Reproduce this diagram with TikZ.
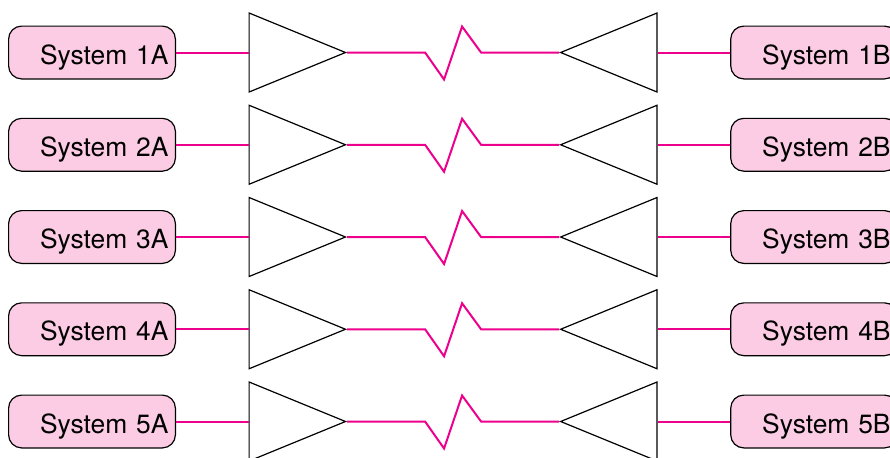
\documentclass[tikz,border=0pt]{standalone}
\usepackage{xcolor}
\usepackage{fontspec}
\setmainfont{TeX Gyre Heros}
\usetikzlibrary{shapes.geometric, positioning}
\definecolor{linkpink}{RGB}{236,0,140}
\definecolor{syspink}{RGB}{252,204,228}

\begin{document}
\begin{tikzpicture}[
    sysbox/.style={draw, rounded corners=6.5pt, fill=syspink, line width=0.6pt, minimum height=26.4pt, inner sep=3.5pt, text width=76.4pt, align=right, text height=11.6pt, text depth=0pt, font=\fontsize{13.2pt}{15pt}\selectfont},
    amp/.style={draw, isosceles triangle, isosceles triangle stretches, minimum width=39.5pt, minimum height=48.2pt, inner sep=0pt, line width=0.6pt},
    ampr/.style={amp, shape border rotate=180},
    link/.style={draw=linkpink, line width=1pt},
    node distance=19.125pt and 36.25pt,
]
\useasboundingbox (0,0) rectangle (445pt,-228.5pt);

% left column
\node[sysbox] (sys1a) at (46pt,-26.25pt) {System 1A};
\node[sysbox, below=of sys1a] (sys2a) {System 2A};
\node[sysbox, below=of sys2a] (sys3a) {System 3A};
\node[sysbox, below=of sys3a] (sys4a) {System 4A};
\node[sysbox, below=of sys4a] (sys5a) {System 5A};

% transmit triangles
\node[amp, right=of sys1a] (tx1) {};
\node[amp, right=of sys2a] (tx2) {};
\node[amp, right=of sys3a] (tx3) {};
\node[amp, right=of sys4a] (tx4) {};
\node[amp, right=of sys5a] (tx5) {};

% receive triangles
\node[ampr, right=106pt of tx1.apex, anchor=apex] (rx1) {};
\node[ampr, right=106pt of tx2.apex, anchor=apex] (rx2) {};
\node[ampr, right=106pt of tx3.apex, anchor=apex] (rx3) {};
\node[ampr, right=106pt of tx4.apex, anchor=apex] (rx4) {};
\node[ampr, right=106pt of tx5.apex, anchor=apex] (rx5) {};

% right column
\node[sysbox, right=of rx1] (sys1b) {System 1B};
\node[sysbox, right=of rx2] (sys2b) {System 2B};
\node[sysbox, right=of rx3] (sys3b) {System 3B};
\node[sysbox, right=of rx4] (sys4b) {System 4B};
\node[sysbox, right=of rx5] (sys5b) {System 5B};

\draw[link] (sys1a) -- (tx1);
\draw[link] (sys2a) -- (tx2);
\draw[link] (sys3a) -- (tx3);
\draw[link] (sys4a) -- (tx4);
\draw[link] (sys5a) -- (tx5);

\draw[link] (tx1.apex) -- ++(39pt,0) -- ++(9.5pt,-13.5pt) -- ++(9pt,26.5pt) -- ++(9.5pt,-13pt) -- (rx1.apex);
\draw[link] (tx2.apex) -- ++(39pt,0) -- ++(9.5pt,-13.5pt) -- ++(9pt,26.5pt) -- ++(9.5pt,-13pt) -- (rx2.apex);
\draw[link] (tx3.apex) -- ++(39pt,0) -- ++(9.5pt,-13.5pt) -- ++(9pt,26.5pt) -- ++(9.5pt,-13pt) -- (rx3.apex);
\draw[link] (tx4.apex) -- ++(39pt,0) -- ++(9.5pt,-13.5pt) -- ++(9pt,26.5pt) -- ++(9.5pt,-13pt) -- (rx4.apex);
\draw[link] (tx5.apex) -- ++(39pt,0) -- ++(9.5pt,-13.5pt) -- ++(9pt,26.5pt) -- ++(9.5pt,-13pt) -- (rx5.apex);

\draw[link] (rx1) -- (sys1b);
\draw[link] (rx2) -- (sys2b);
\draw[link] (rx3) -- (sys3b);
\draw[link] (rx4) -- (sys4b);
\draw[link] (rx5) -- (sys5b);

\end{tikzpicture}
\end{document}
